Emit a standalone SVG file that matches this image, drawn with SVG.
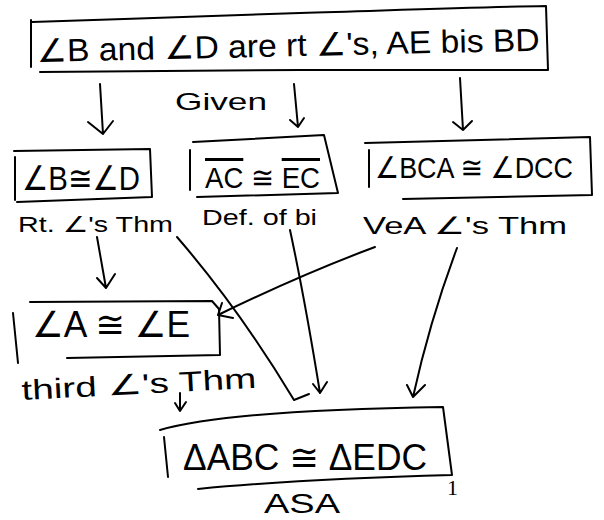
<svg xmlns="http://www.w3.org/2000/svg" width="604" height="520" viewBox="0 0 604 520">
  <style>
    .box { fill: none; stroke: #000; stroke-width: 2; stroke-linecap: round; stroke-linejoin: round; }
    .link { fill: none; stroke: #000; stroke-width: 2; stroke-linecap: round; stroke-linejoin: round; }
    .t { font-family: "Liberation Sans", "DejaVu Sans", sans-serif; fill: #000; }
    .num { font-family: "Liberation Serif", serif; fill: #000; }
    .ov { text-decoration: overline; }
  </style>
  <rect width="604" height="520" fill="#fff"/>

  <!-- flow proof: statements in boxes, reasons underneath -->
  <g id="given">
    <path class="box" d="M31,20 L31,67 M32,22 C120,19 240,15 300,13 C400,10 480,7 546,6 L548,70 L300,70 L40,72"/>
    <text class="t" x="37" y="62" font-size="32" textLength="503" lengthAdjust="spacingAndGlyphs" transform="rotate(-1.3 37 62)">∠B and ∠D are rt ∠'s, AE bis BD</text>
    <text class="t" x="175" y="110" font-size="24" textLength="92" lengthAdjust="spacingAndGlyphs">Given</text>
  </g>

  <g id="angleB">
    <path class="box" d="M15,157 L15,200 M14,151 L150,149 L152,197 L17,202"/>
    <text class="t" x="22" y="190" font-size="34" textLength="118" lengthAdjust="spacingAndGlyphs">∠B≅∠D</text>
    <text class="t" x="18" y="232" font-size="22" textLength="155" lengthAdjust="spacingAndGlyphs">Rt. ∠'s Thm</text>
  </g>

  <g id="segAC">
    <path class="box" d="M190,150 L190,190 M193,142 L324,135 L338,193 L197,197"/>
    <text class="t" x="205" y="188" font-size="30" textLength="115" lengthAdjust="spacingAndGlyphs"><tspan class="ov">AC</tspan> ≅ <tspan class="ov">EC</tspan></text>
    <text class="t" x="202" y="225" font-size="22" textLength="115" lengthAdjust="spacingAndGlyphs">Def. of bi</text>
  </g>

  <g id="angleBCA">
    <path class="box" d="M369,150 L369,187 M365,143 L590,137 L592,195 L403,199"/>
    <text class="t" x="375" y="178" font-size="30" textLength="198" lengthAdjust="spacingAndGlyphs">∠BCA ≅ ∠DCC</text>
    <text class="t" x="363" y="234" font-size="24" textLength="204" lengthAdjust="spacingAndGlyphs">VeA ∠'s Thm</text>
  </g>

  <g id="angleA">
    <path class="box" d="M13,313 L18,363 M30,302 L212,301 L219,309 L220,355 L67,358"/>
    <text class="t" x="32" y="337" font-size="36" textLength="158" lengthAdjust="spacingAndGlyphs">∠A ≅ ∠E</text>
    <text class="t" x="22" y="400" font-size="28" textLength="235" lengthAdjust="spacingAndGlyphs" transform="rotate(-3 22 400)">third ∠'s Thm</text>
  </g>

  <g id="triangles">
    <path class="box" d="M164,437 L168,477 M160,430 Q230,410 443,407 L452,475 M198,489 Q300,479 452,475"/>
    <text class="t" x="183" y="470" font-size="36" textLength="244" lengthAdjust="spacingAndGlyphs">ΔABC ≅ ΔEDC</text>
    <text class="t" x="264" y="513" font-size="28" textLength="76" lengthAdjust="spacingAndGlyphs">ASA</text>
  </g>

  <text class="num" x="447" y="495" font-size="22">1</text>

  <g id="connectors">
    <path class="link" d="M100,84 L103,134 M88,122 L103,134 L113,121"/>
    <path class="link" d="M294,84 L298,127 M290,120 L298,127 L304,118"/>
    <path class="link" d="M460,78 L463,130 M453,122 L463,130 L472,121"/>
    <path class="link" d="M97,237 L106,288 M97,278 L106,288 L115,274"/>
    <path class="link" d="M375,247 Q300,275 218,315 M222,303 L218,315 L233,318"/>
    <path class="link" d="M177,237 Q240,310 294,400 L309,394"/>
    <path class="link" d="M290,230 Q305,300 320,393 M313,384 L320,393 L327,382"/>
    <path class="link" d="M457,248 Q430,320 413,397 M407,385 L413,397 L425,385"/>
    <path class="link" d="M180,393 L180,411 M175,403 L180,411 L186,402"/>
  </g>
</svg>
